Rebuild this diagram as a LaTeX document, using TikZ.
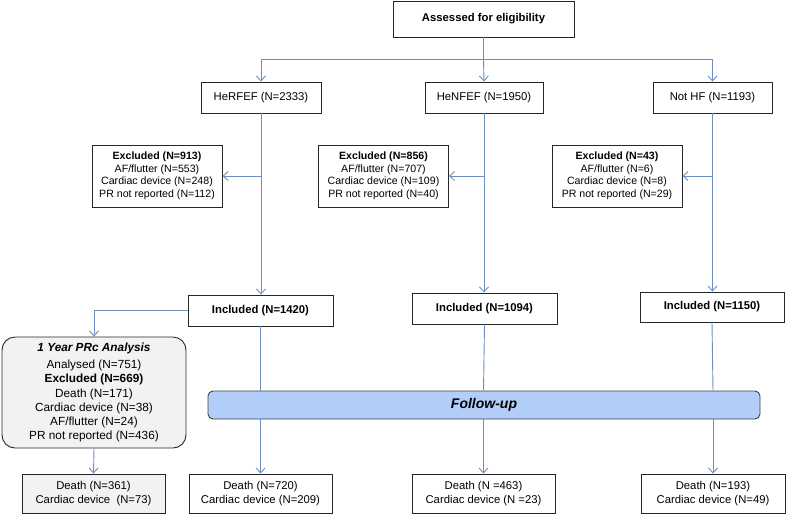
\documentclass[tikz,border=0pt]{standalone}
\usepackage{fontspec}
\setmainfont{Liberation Sans}
\usepackage{tikz}
\usetikzlibrary{positioning, calc, arrows.meta, shapes.geometric}
\definecolor{flowline}{RGB}{108,143,190}
\definecolor{fubar}{RGB}{178,206,248}
\definecolor{boxgray}{RGB}{242,242,242}

\begin{document}
\begin{tikzpicture}[x=1pt,y=-1pt,
box/.style={rectangle,draw=black!85,line width=0.9pt,fill=white,align=center,inner sep=2pt},
flow/.style={draw=flowline,line width=0.9pt},
arr/.style={flow,-{Straight Barb[length=5pt,width=9pt]}},
small/.style={font=\fontsize{10.6}{12.5}\selectfont},
big/.style={font=\fontsize{11.3}{13.5}\selectfont}]
\useasboundingbox (0,0) rectangle (787,515);
% top
\node[box,big,minimum width=181pt,minimum height=36pt] (assess) at (483.5,19) {\textbf{Assessed for eligibility}};
\node[box,big,minimum width=120pt,minimum height=31pt] (herfef) at (261,97.5) {HeRFEF (N=2333)};
\node[box,big,minimum width=118pt,minimum height=31pt] (henfef) at (484,97.5) {HeNFEF (N=1950)};
\node[box,big,minimum width=119pt,minimum height=31pt] (nothf) at (712.5,97.5) {Not HF (N=1193)};
% excluded
\node[box,small,minimum width=130pt,minimum height=62pt] (exc1) at (157,176) {\textbf{Excluded (N=913)}\\AF/flutter (N=553)\\Cardiac device (N=248)\\PR not reported (N=112)};
\node[box,small,minimum width=130pt,minimum height=62pt] (exc2) at (383.5,176) {\textbf{Excluded (N=856)}\\AF/flutter (N=707)\\Cardiac device (N=109)\\PR not reported (N=40)};
\node[box,small,minimum width=130pt,minimum height=62pt] (exc3) at (617,176) {\textbf{Excluded (N=43)}\\AF/flutter (N=6)\\Cardiac device (N=8)\\PR not reported (N=29)};
% included
\node[box,big,minimum width=145pt,minimum height=31pt] (inc1) at (260.5,310.5) {\textbf{Included (N=1420)}};
\node[box,big,minimum width=145pt,minimum height=31pt] (inc2) at (484.5,308.5) {\textbf{Included (N=1094)}};
\node[box,big,minimum width=144pt,minimum height=30pt] (inc3) at (712,307) {\textbf{Included (N=1150)}};
% PRc analysis
\node[box,rounded corners=13pt,fill=boxgray,minimum width=184pt,minimum height=111pt,font=\fontsize{11.8}{14.2}\selectfont] (prc) at (94,392.5) {\textbf{\textit{1 Year PRc Analysis}}\\[3pt]Analysed (N=751)\\\textbf{Excluded (N=669)}\\Death (N=171)\\Cardiac device (N=38)\\AF/flutter (N=24)\\PR not reported (N=436)};
\node[box,rounded corners=5pt,fill=fubar,draw=black!75,minimum width=552pt,minimum height=28pt,font=\fontsize{14}{16}\selectfont] (fu) at (484,405) {\textbf{\textit{Follow-up}}};
% outcomes
\node[box,big,fill=boxgray,minimum width=143pt,minimum height=39pt] (out1) at (93.5,493.5) {Death (N=361)\\Cardiac device~ (N=73)};
\node[box,big,minimum width=143pt,minimum height=39pt] (out2) at (260.5,493.5) {Death (N=720)\\Cardiac device (N=209)};
\node[box,big,minimum width=143pt,minimum height=39pt] (out3) at (483.5,493.5) {Death (N =463)\\Cardiac device (N =23)};
\node[box,big,minimum width=144pt,minimum height=39pt] (out4) at (713,493.5) {Death (N=193)\\Cardiac device (N=49)};
% connectors
\coordinate (split) at (assess.south |- 0,59);
\draw[flow] (assess.south) -- (split);
\draw[arr] (split) -| (herfef.north);
\draw[arr] (split) -| (nothf.north);
\draw[arr] (split) -- (henfef.north);
\draw[arr] (herfef.south) -- (herfef.south |- inc1.north);
\draw[arr] (henfef.south) -- (henfef.south |- inc2.north);
\draw[arr] (nothf.south) -- (nothf.south |- inc3.north);
\coordinate (b1) at (herfef.south |- exc1.east);
\coordinate (b2) at (henfef.south |- exc2.east);
\coordinate (b3) at (nothf.south |- exc3.east);
\draw[arr] (b1) -- (exc1.east);
\draw[arr] (b2) -- (exc2.east);
\draw[arr] (b3) -- (exc3.east);
\draw[arr] (inc1.west) -| (prc.north);
\draw[arr] (prc.south) -- (out1.north);
\coordinate (f1) at (out2.north |- fu.north);
\coordinate (f2) at (out3.north |- fu.north);
\coordinate (f3) at (out4.north |- fu.north);
\coordinate (g1) at (out2.north |- fu.south);
\coordinate (g2) at (out3.north |- fu.south);
\coordinate (g3) at (out4.north |- fu.south);
\draw[flow] (inc1.south) -- (f1);
\draw[flow] (inc2.south) -- (f2);
\draw[flow] (inc3.south) -- (f3);
\draw[arr] (g1) -- (out2.north);
\draw[arr] (g2) -- (out3.north);
\draw[arr] (g3) -- (out4.north);
\end{tikzpicture}
\end{document}
